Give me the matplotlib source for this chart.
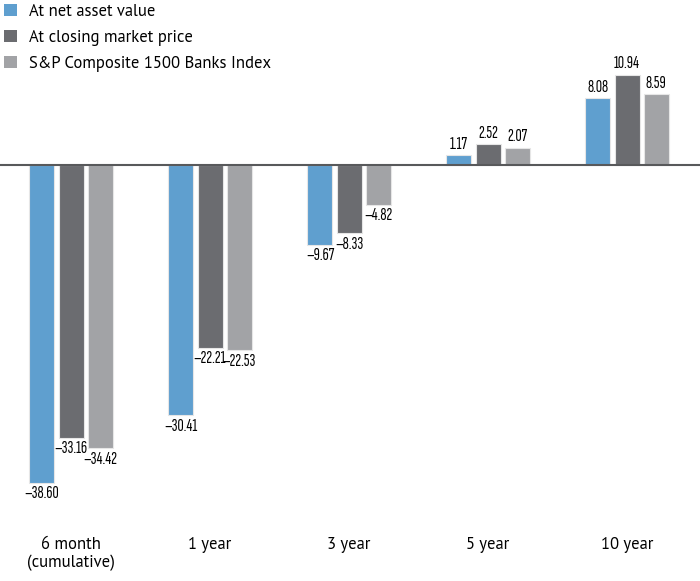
import numpy as np
import matplotlib.pyplot as plt
from matplotlib.patches import Patch

plt.rcParams['font.family'] = ['PT Sans', 'Noto Sans', 'DejaVu Sans']
value_font = ['Sofia Sans Extra Condensed', 'Archivo Narrow', 'DejaVu Sans']

periods = ['6 month\n(cumulative)', '1 year', '3 year', '5 year', '10 year']
series = ['At net asset value', 'At closing market price',
          'S&P Composite 1500 Banks Index']
nav = [-38.60, -30.41, -9.67, 1.17, 8.08]
market = [-33.16, -22.21, -8.33, 2.52, 10.94]
index = [-34.42, -22.53, -4.82, 2.07, 8.59]
colors = ['#5f9fcf', '#6b6c70', '#a2a3a6']

fig = plt.figure(figsize=(7, 5.81), dpi=100)
ax = fig.add_axes([0, 0, 1, 1])

x = np.arange(len(periods))
w = 0.18
step = 0.209
for k, (vals, c) in enumerate(zip([nav, market, index], colors)):
    xs = x + (k - 1) * step
    ax.bar(xs, vals, width=w, color=c, edgecolor='#e6e6e6', linewidth=0.8,
           zorder=2)
    for xi, v in zip(xs, vals):
        txt = f'{v:.2f}'.replace('-', '\u2013')
        if v >= 0:
            ax.text(xi, v + 0.4, txt, ha='center', va='bottom', fontsize=12.5,
                    family=value_font, weight='medium')
        else:
            ax.text(xi, v - 0.4, txt, ha='center', va='top', fontsize=12.5,
                    family=value_font, weight='medium')

for xi, lab in zip(x, periods):
    ax.text(xi, -45.2, lab, ha='center', va='top', fontsize=12,
            linespacing=1.1)

ax.axhline(0, color='#58595b', linewidth=1.5, zorder=3)
ax.set_xlim(-0.511, 4.525)
ax.set_ylim(-50.5, 20.0)
ax.axis('off')

handles = [Patch(facecolor=c, edgecolor='none') for c in colors]
ax.legend(handles, series, loc='upper left', bbox_to_anchor=(-0.008, 1.01),
          frameon=False, handlelength=0.75, handleheight=0.75,
          handletextpad=0.75, labelspacing=0.6, borderaxespad=0.2,
          prop={'size': 12})

fig.savefig('out.png', dpi=100)
